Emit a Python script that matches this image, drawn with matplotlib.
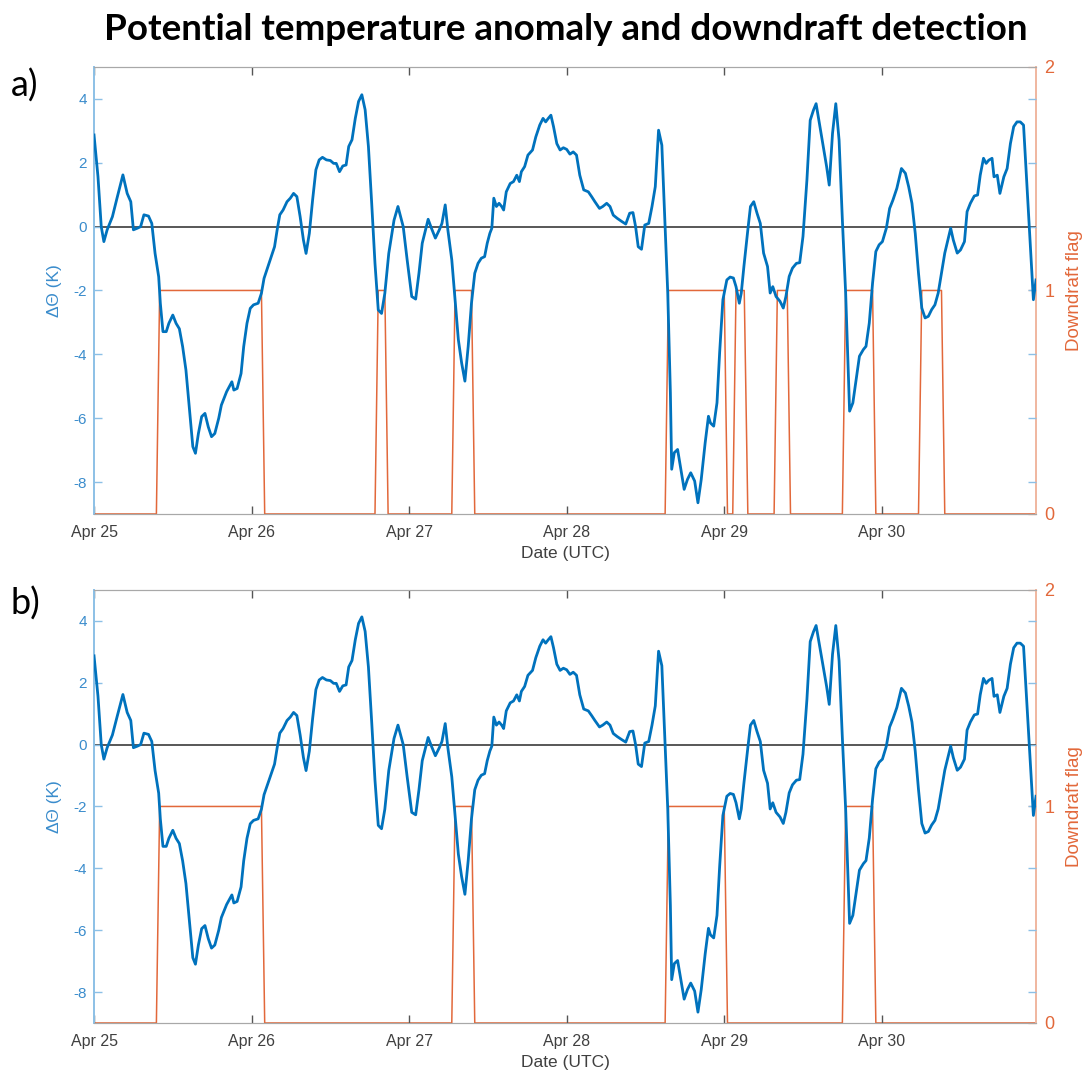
import numpy as np
import matplotlib.pyplot as plt
import matplotlib.dates as mdates

# Potential temperature anomaly (K), hours after Apr 25 00:00 UTC
hours = [0, 0.6, 1.1, 1.5, 2.0, 2.8, 3.5, 4.4, 5.05, 5.6, 6.0, 6.6, 7.1, 7.6, 8.3, 8.8,
         9.3, 9.85, 10.1, 10.5, 11.0, 11.4, 12.0, 12.5, 13.0, 13.5, 14.0, 14.5, 15.05, 15.45,
         15.9, 16.4, 16.9, 17.4, 17.9, 18.4, 19.0, 19.4, 20.2, 21.0, 21.3, 21.8, 22.4, 22.8,
         23.3, 23.8, 24.3, 25.0, 25.5, 25.9, 26.5, 27.0, 27.5, 27.9, 28.3, 28.8, 29.4, 29.9,
         30.4, 30.9, 31.4, 31.9, 32.3, 32.8, 33.3, 33.8, 34.3, 34.8, 35.4, 36.0, 36.5, 36.9,
         37.4, 37.9, 38.4, 38.8, 39.3, 39.8, 40.3, 40.8, 41.3, 41.8, 42.3, 42.8, 43.3, 43.8,
         44.3, 44.9, 45.7, 46.3, 47.1, 47.7, 48.4, 49.0, 49.5, 50.0, 50.9, 51.4, 52.0, 52.6,
         53.0, 53.5, 53.9, 54.5, 55.0, 55.5, 56.0, 56.5, 57.0, 57.5, 58.0, 58.5, 59.0, 59.5,
         59.9, 60.3, 60.6, 60.9, 61.3, 61.7, 62.1, 62.4, 62.8, 63.4, 63.9, 64.4, 64.8, 65.1,
         65.6, 66.1, 66.8, 67.3, 67.9, 68.4, 68.8, 69.2, 69.6, 70.0, 70.5, 71.0, 71.5, 72.0,
         72.5, 73.0, 73.5, 74.0, 74.6, 75.3, 75.8, 76.3, 77.0, 77.5, 78.1, 78.6, 79.1, 79.7,
         80.4, 81.0, 81.6, 82.1, 82.5, 82.9, 83.4, 83.9, 84.5, 85.0, 85.5, 86.0, 86.5, 87.0,
         87.4, 87.8, 88.0, 88.4, 88.9, 89.4, 89.9, 90.4, 90.9, 91.5, 92.0, 92.5, 93.1, 93.6,
         93.9, 94.4, 94.9, 95.3, 95.8, 96.4, 96.9, 97.4, 97.8, 98.3, 98.6, 99.0, 99.6, 100.0,
         100.5, 101.0, 101.5, 102.0, 102.6, 103.0, 103.4, 103.9, 104.5, 105.0, 105.4, 105.9,
         106.4, 107.0, 107.5, 108.0, 108.6, 109.1, 109.6, 110.0, 110.5, 111.1, 111.6, 112.0,
         112.5, 113.0, 113.5, 114.0, 114.5, 115.1, 115.6, 116.1, 116.6, 117.2, 117.6, 118.1,
         118.6, 119.1, 119.6, 120.1, 120.7, 121.2, 121.7, 122.3, 122.7, 123.0, 123.6, 124.1,
         124.6, 125.1, 125.6, 126.1, 126.6, 127.1, 127.6, 128.1, 128.6, 129.1, 129.6, 130.2,
         130.5, 130.9, 131.5, 132.0, 132.6, 133.0, 133.5, 134.1, 134.6, 135.0, 135.5, 135.9,
         136.3, 136.8, 137.1, 137.6, 138.0, 138.6, 139.1, 139.6, 140.1, 140.6, 141.1, 141.6,
         142.1, 142.6, 143.1, 143.5]
dtheta = [2.87, 1.57, 0.0, -0.47, -0.1, 0.31, 0.89, 1.62, 1.04, 0.78, -0.1, -0.05, 0.0, 0.37, 0.33, 0.1,
          -0.84, -1.57, -2.4, -3.29, -3.29, -3.03, -2.77, -3.03, -3.2, -3.76, -4.49, -5.64, -6.89, -7.1,
          -6.48, -5.95, -5.85, -6.27, -6.58, -6.48, -6.0, -5.59, -5.17, -4.86, -5.12, -5.07, -4.6, -3.76,
          -3.03, -2.56, -2.45, -2.4, -2.09, -1.62, -1.25, -0.94, -0.63, -0.1, 0.37, 0.52, 0.78, 0.89,
          1.04, 0.94, 0.31, -0.42, -0.84, -0.21, 0.84, 1.78, 2.09, 2.17, 2.09, 2.07, 1.98, 1.98,
          1.72, 1.9, 1.93, 2.51, 2.72, 3.39, 3.92, 4.13, 3.66, 2.51, 0.73, -1.15, -2.61, -2.72,
          -2.09, -0.84, 0.2, 0.63, 0.0, -1.04, -2.19, -2.27, -1.46, -0.52, 0.23, -0.05, -0.36, -0.1,
          0.1, 0.68, -0.1, -1.04, -2.29, -3.54, -4.27, -4.84, -3.75, -2.4, -1.46, -1.15, -0.99, -0.94,
          -0.52, -0.21, -0.05, 0.89, 0.63, 0.73, 0.63, 0.52, 1.09, 1.35, 1.41, 1.61, 1.41, 1.72,
          1.88, 2.24, 2.4, 2.81, 3.18, 3.39, 3.28, 3.39, 3.49, 3.13, 2.6, 2.4, 2.47, 2.42,
          2.27, 2.34, 2.24, 1.61, 1.15, 1.09, 0.94, 0.78, 0.57, 0.63, 0.73, 0.63, 0.36, 0.26,
          0.16, 0.08, 0.42, 0.44, 0.0, -0.63, -0.71, 0.05, 0.1, 0.63, 1.25, 3.02, 2.55, 0.0,
          -2.08, -5.2, -7.6, -7.08, -6.98, -7.6, -8.23, -7.92, -7.71, -7.97, -8.65, -7.92, -6.77, -5.94,
          -6.15, -6.25, -5.52, -3.96, -2.29, -1.67, -1.58, -1.61, -1.88, -2.4, -2.08, -1.25, -0.1, 0.63,
          0.78, 0.42, 0.1, -0.83, -1.25, -2.08, -1.88, -2.19, -2.34, -2.55, -2.19, -1.56,
          -1.3, -1.15, -1.13, -0.31, 1.46, 3.33, 3.65, 3.85, 3.23, 2.5, 1.88, 1.3,
          2.92, 3.85, 2.71, 0.21, -2.08, -5.78, -5.52, -4.79, -4.06, -3.85, -3.75, -3.02,
          -1.77, -0.78, -0.57, -0.47, -0.05, 0.57, 0.83, 1.2, 1.56, 1.82, 1.67, 1.25,
          0.73, -0.21, -1.46, -2.55, -2.86, -2.81, -2.6, -2.45, -2.08, -1.46, -0.83, -0.31,
          -0.05, -0.42, -0.83, -0.73, -0.47, 0.47, 0.73, 0.96, 0.99, 1.61, 2.14, 1.98,
          2.08, 2.14, 1.56, 1.61, 1.04, 1.56, 1.82, 2.6, 3.13, 3.28, 3.28, 3.18,
          1.35, -0.42, -2.29, -1.67]

# Downdraft flag, panel a
flag_a_hours = [0, 9.5, 10.0, 25.5, 26.0, 42.8, 43.3, 44.3, 44.8, 54.5, 55.0, 57.5, 58.0,
                87.0, 87.5, 96.0, 96.5, 97.3, 97.8, 99.05, 99.6, 103.6, 104.1, 105.6, 106.1,
                114.0, 114.5, 118.6, 119.1, 125.6, 126.1, 129.1, 129.6, 143.5]
flag_a = [0, 0, 1, 1, 0, 0, 1, 1, 0, 0, 1, 1, 0,
          0, 1, 1, 0, 0, 1, 1, 0, 0, 1, 1, 0,
          0, 1, 1, 0, 0, 1, 1, 0, 0]

# Downdraft flag, panel b
flag_b_hours = [0, 9.5, 10.0, 25.5, 26.0, 54.5, 55.0, 57.5, 58.0, 87.0, 87.5, 96.0, 96.5,
                114.0, 114.5, 118.6, 119.1, 143.5]
flag_b = [0, 0, 1, 1, 0, 0, 1, 1, 0, 0, 1, 1, 0, 0, 1, 1, 0, 0]

t0 = np.datetime64('2019-04-25T00:00')


def to_time(h):
    mins = np.round(np.asarray(h, dtype=float) * 60).astype(int)
    return t0 + mins.astype('timedelta64[m]')


BLUE = '#0072BD'
ORANGE = '#E2683A'

plt.rcParams['font.family'] = ['Liberation Sans', 'DejaVu Sans']
plt.rcParams['axes.unicode_minus'] = False

fig = plt.figure(figsize=(10.82, 10.75), dpi=100)


def panel(rect, fh, fv):
    ax = fig.add_axes(rect)
    ax2 = ax.twinx()
    ax.set_zorder(ax2.get_zorder() + 1)
    ax.patch.set_visible(False)

    t = to_time(hours)
    ax.axhline(0, color='#4a4a4a', lw=1.3, zorder=1)
    ax.plot(t, dtheta, color=BLUE, lw=2.0, zorder=3)
    ax2.plot(to_time(fh), fv, color=ORANGE, lw=1.1)

    ax.set_xlim(t0, to_time(143.5))
    ax.set_ylim(-9, 5)
    ax.set_yticks([-8, -6, -4, -2, 0, 2, 4])
    ax2.set_ylim(0, 2)
    ax2.set_yticks([0, 1, 2])

    ax.xaxis.set_major_locator(mdates.DayLocator())
    ax.xaxis.set_major_formatter(mdates.DateFormatter('%b %d'))
    ax.tick_params(axis='x', direction='in', top=True, length=6, width=1,
                   color='#555555', labelsize=11.5, labelcolor='#404040', pad=8)
    ax.tick_params(axis='y', direction='in', right=True, length=6, width=1,
                   color='#8cc0e6', labelsize=11, labelcolor='#3a8ccc', pad=5)
    ax2.tick_params(axis='y', direction='in', length=6, width=1,
                    color='#f0b79f', labelsize=13, labelcolor=ORANGE, pad=6)

    for a in (ax, ax2):
        a.spines['top'].set_color('#a8a8a8')
        a.spines['bottom'].set_color('#a8a8a8')
    ax.spines['left'].set_color('#8cc0e6')
    ax.spines['left'].set_linewidth(1.4)
    ax.spines['right'].set_visible(False)
    ax2.spines['left'].set_visible(False)
    ax2.spines['right'].set_color('#f0b79f')
    ax2.spines['right'].set_linewidth(1.4)

    ax.set_xlabel('Date (UTC)', fontsize=12.5, color='#404040', labelpad=4)
    ax.set_ylabel('ΔΘ (K)', fontsize=12.5, color='#3a8ccc', labelpad=8)
    ax2.set_ylabel('Downdraft flag', fontsize=13.5, color=ORANGE, labelpad=8)
    return ax


panel([0.0869, 0.5219, 0.8706, 0.4158], flag_a_hours, flag_a)
panel([0.0869, 0.0484, 0.8706, 0.4028], flag_b_hours, flag_b)

fig.text(0.523, 0.973, 'Potential temperature anomaly and downdraft detection',
         fontsize=26.5, fontweight='bold', family='Lato', ha='center', va='center')
fig.text(0.010, 0.920, 'a)', fontsize=26, family='Lato', ha='left', va='center')
fig.text(0.010, 0.439, 'b)', fontsize=26, family='Lato', ha='left', va='center')

fig.savefig('out.png', dpi=100)
